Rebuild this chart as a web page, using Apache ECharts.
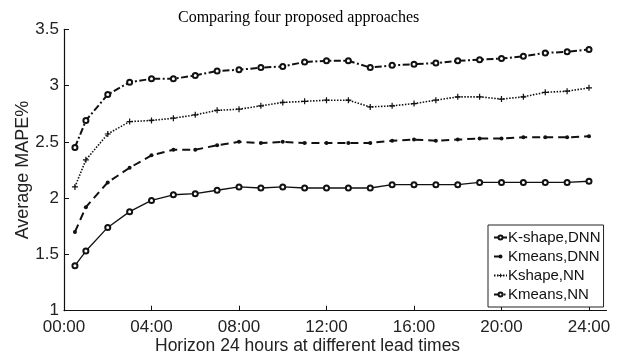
<!DOCTYPE html>
<html>
<head>
<meta charset="utf-8">
<script src="https://cdn.jsdelivr.net/npm/echarts@6/dist/echarts.min.js"></script>
<style>
html,body{margin:0;padding:0;background:#fff;}
#c{width:620px;height:359px;}
</style>
</head>
<body>
<div id="c"></div>
<script>
var hours = [0.5,1,2,3,4,5,6,7,8,9,10,11,12,13,14,15,16,17,18,19,20,21,22,23,24];
var xTickLabels = ['00:00','04:00','08:00','12:00','16:00','20:00','24:00'];
var seriesNames = ['K-shape,DNN','Kmeans,DNN','Kshape,NN','Kmeans,NN'];
var kshapeDNN = [1.40,1.53,1.74,1.88,1.98,2.03,2.04,2.07,2.10,2.09,2.10,2.09,2.09,2.09,2.09,2.12,2.12,2.12,2.12,2.14,2.14,2.14,2.14,2.14,2.15];
var kmeansDNN = [1.70,1.92,2.14,2.27,2.38,2.43,2.43,2.47,2.50,2.49,2.50,2.49,2.49,2.49,2.49,2.51,2.52,2.51,2.52,2.53,2.53,2.54,2.54,2.54,2.55];
var kshapeNN  = [2.10,2.34,2.57,2.68,2.69,2.71,2.74,2.78,2.79,2.82,2.85,2.86,2.87,2.87,2.81,2.82,2.84,2.87,2.90,2.90,2.88,2.90,2.94,2.95,2.98];
var kmeansNN  = [2.45,2.69,2.92,3.03,3.06,3.06,3.09,3.13,3.14,3.16,3.17,3.21,3.22,3.22,3.16,3.18,3.19,3.20,3.22,3.23,3.24,3.26,3.29,3.30,3.32];

function pairs(arr){ return hours.map(function(h,i){ return [h, arr[i]]; }); }
var plusPath = 'path://M4,0H6V4H10V6H6V10H4V6H0V4H4Z';
var ink = '#111';

var chart = echarts.init(document.getElementById('c'), null, {renderer:'canvas'});
chart.setOption({
  animation: false,
  backgroundColor: '#fff',
  title: {
    text: 'Comparing four proposed approaches',
    left: 173, top: 5,
    textStyle: {fontFamily: 'Liberation Serif', fontSize: 16, fontWeight: 'normal', color: '#000'}
  },
  grid: {left: 64, top: 29.3, width: 542.5, height: 281.4, containLabel: false},
  xAxis: {
    type: 'value', min: 0, max: 24.8, interval: 4,
    axisLine: {show: true, lineStyle: {color: ink, width: 1.2}},
    axisTick: {show: true, inside: true, length: 5, lineStyle: {color: ink}},
    splitLine: {show: false},
    axisLabel: {
      margin: 8, color: '#222', fontFamily: 'Liberation Sans', fontSize: 17,
      showMaxLabel: false,
      formatter: function(v){ var i = Math.round(v/4); return (Math.abs(v - i*4) < 1e-6) ? xTickLabels[i] : ''; }
    }
  },
  yAxis: {
    type: 'value', min: 1, max: 3.5, interval: 0.5,
    name: 'Average MAPE%', nameLocation: 'middle', nameGap: 32, nameMoveOverlap: false,
    nameTextStyle: {fontFamily: 'Liberation Sans', fontSize: 18, color: '#222'},
    axisLine: {show: true, lineStyle: {color: ink, width: 1.2}},
    axisTick: {show: true, inside: true, length: 5, lineStyle: {color: ink}},
    splitLine: {show: false},
    axisLabel: {margin: 5, color: '#222', fontFamily: 'Liberation Sans', fontSize: 17}
  },
  graphic: [{
    type: 'text', left: 155, top: 337,
    style: {text: 'Horizon 24 hours at different lead times', font: '17.5px "Liberation Sans"', fill: '#222'}
  }],
  legend: {
    orient: 'vertical', left: 488, top: 225,
    padding: [5, 3, 5, 5], itemGap: 4, itemWidth: 13, itemHeight: 5,
    borderColor: '#222', borderWidth: 1, backgroundColor: '#fff',
    textStyle: {fontFamily: 'Liberation Sans', fontSize: 15, color: '#111', padding: [0,0,0,-4]},
    data: seriesNames
  },
  series: [
    {name: seriesNames[0], type: 'line', data: pairs(kshapeDNN),
     symbol: 'emptyCircle', symbolSize: 5,
     lineStyle: {color: ink, width: 1.3, type: 'solid'},
     itemStyle: {color: ink, borderColor: ink, borderWidth: 1.2}},
    {name: seriesNames[1], type: 'line', data: pairs(kmeansDNN),
     symbol: 'circle', symbolSize: 4,
     lineStyle: {color: ink, width: 2, type: [8,5]},
     itemStyle: {color: ink}},
    {name: seriesNames[2], type: 'line', data: pairs(kshapeNN),
     symbol: plusPath, symbolSize: 6,
     lineStyle: {color: ink, width: 1.6, type: [1.5,1.5]},
     itemStyle: {color: ink}},
    {name: seriesNames[3], type: 'line', data: pairs(kmeansNN),
     symbol: 'emptyCircle', symbolSize: 5,
     lineStyle: {color: ink, width: 2, type: [7,2.5,2,2.5]},
     itemStyle: {color: ink, borderColor: ink, borderWidth: 1.4}}
  ]
});
</script>
</body>
</html>
